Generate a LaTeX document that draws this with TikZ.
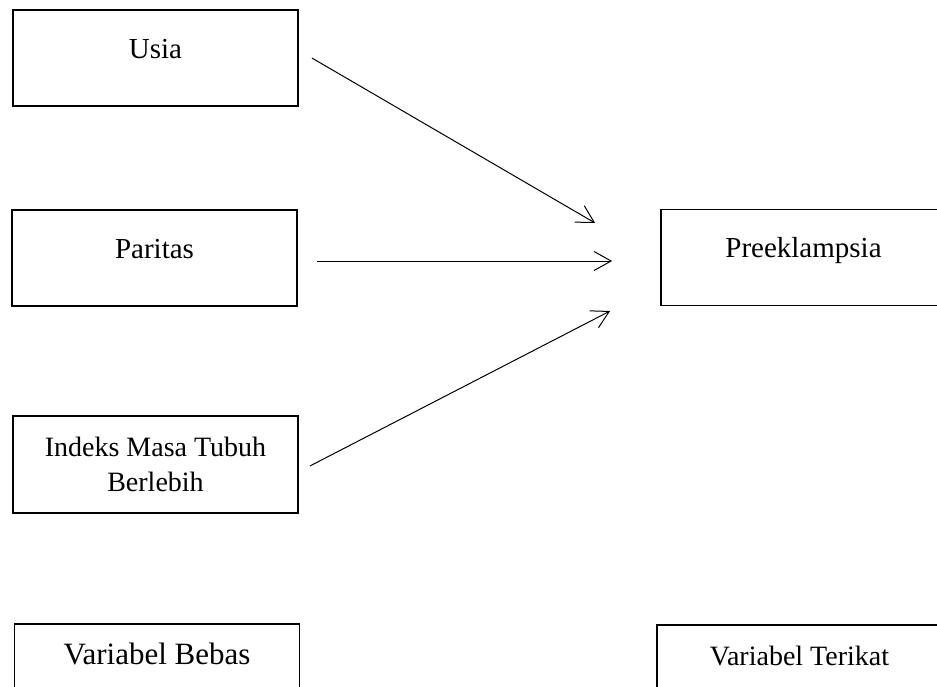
\documentclass[tikz,border=0pt]{standalone}
\usepackage{fontspec}
\setmainfont{Liberation Serif}
\usetikzlibrary{arrows.meta}

\newcommand{\boxfont}{\fontsize{29}{35}\selectfont}

\begin{document}
\begin{tikzpicture}[x=1pt, y=-1pt,
	box/.style={draw, line width=1.8pt, minimum width=285pt, minimum height=96pt, align=center, inner sep=0pt, font=\boxfont},
	oneline/.style={text height=12pt, text depth=12pt},
	link/.style={line width=1pt, -{Straight Barb[length=17pt, width=19pt, line width=1pt]}}]
	\useasboundingbox (0,0) rectangle (937,686);
	% independent variables
	\node[box, oneline] (usia) at (155.5,58) {Usia};
	\node[box, oneline] (paritas) at (154.5,258) {Paritas};
	\node[box, minimum height=97pt, font=\fontsize{28}{35}\selectfont] (imt) at (155.5,464.5) {Indeks Masa Tubuh\\Berlebih};
	% dependent variable
	\node[box, oneline] (preek) at (803.5,257.5) {Preeklampsia};
	% legend boxes at the bottom
	\node[box, oneline, minimum height=80pt, font=\fontsize{31}{35}\selectfont] (bebas) at (157,664) {Variabel Bebas};
	\node[box, oneline, minimum height=80pt, font=\fontsize{28}{35}\selectfont] (terikat) at (799.5,665) {Variabel Terikat};
	% arrows
	\draw[link] ([xshift=13pt]usia.east) -- ([shift={(-65,-34.5)}]preek.west);
	\draw[link] ([shift={(19.5,3)}]paritas.east) -- ([shift={(-48,3.5)}]preek.west);
	\draw[link] ([shift={(11,1.5)}]imt.east) -- ([shift={(-50,53.5)}]preek.west);
\end{tikzpicture}
\end{document}
